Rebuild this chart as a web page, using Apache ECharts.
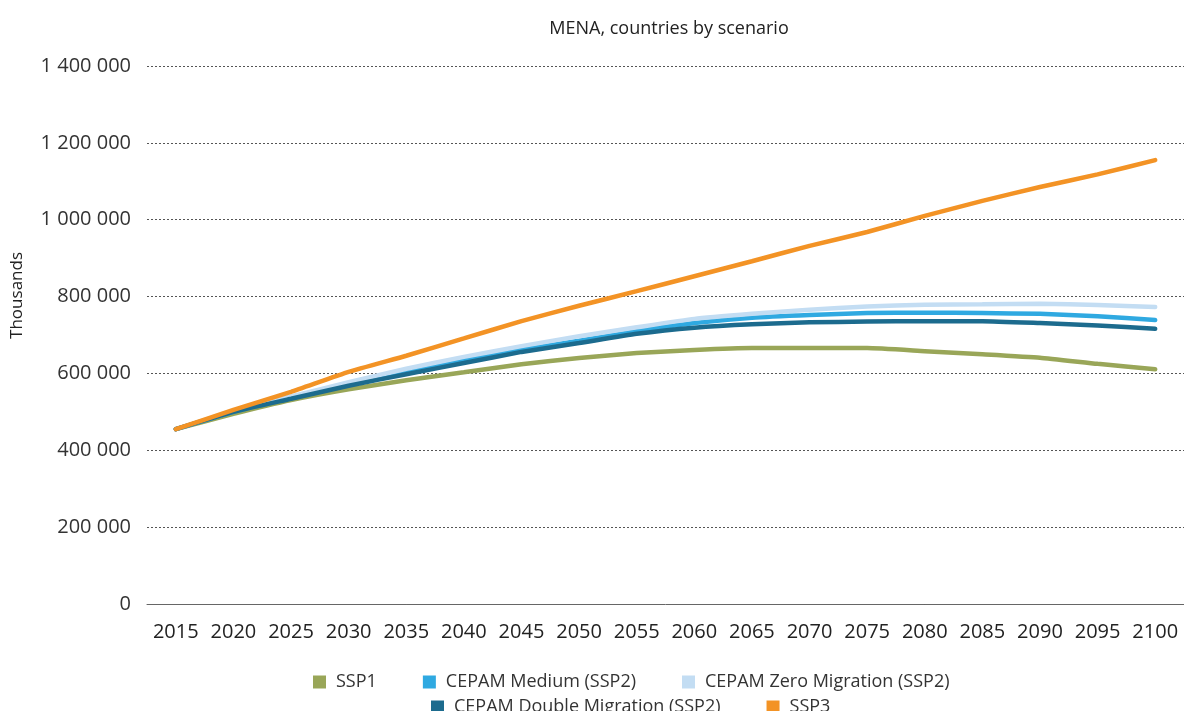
<!DOCTYPE html>
<html>
<head>
<meta charset="utf-8">
<script src="https://cdn.jsdelivr.net/npm/echarts@6/dist/echarts.min.js"></script>
<style>
html, body { margin: 0; padding: 0; background: #fff; }
#main { width: 1184px; height: 711px; }
</style>
</head>
<body>
<div id="main"></div>
<script>
// 年份
var years = ['2015','2020','2025','2030','2035','2040','2045','2050','2055','2060','2065','2070','2075','2080','2085','2090','2095','2100'];
// 各情景人口 (千人)
var ssp1 = [455000,495000,531000,559000,582000,603000,624000,640000,653000,661000,666000,666000,666000,658000,650000,641000,625000,611000];
var cepamMedium = [455000,500000,537000,572000,604000,634000,662000,685000,710000,731000,745000,752000,757000,758000,757000,755000,749000,739000];
var cepamZero = [455000,502000,540000,577000,612000,643000,671000,697000,720000,742000,755000,766000,774000,779000,780000,781000,778000,773000];
var cepamDouble = [455000,500000,534000,568000,598000,627000,656000,679000,703000,719000,728000,733000,735000,736000,736000,731000,725000,716000];
var ssp3 = [455000,505000,552000,604000,646000,691000,736000,776000,814000,853000,892000,932000,968000,1010000,1049000,1085000,1118000,1155000];

var seriesNames = ['SSP1','CEPAM Medium (SSP2)','CEPAM Zero Migration (SSP2)','CEPAM Double Migration (SSP2)','SSP3'];
var seriesData = [ssp1, cepamMedium, cepamZero, cepamDouble, ssp3];
var colors = ['#99a658','#2fa9e1','#c3ddf3','#1c6b8e','#f39325'];

var myChart = echarts.init(document.getElementById('main'));

function fmt(v){
    return String(v).replace(/\B(?=(\d{3})+(?!\d))/g, ' ');
}

var series = [];
for (var i = 0; i < seriesNames.length; i++) {
    series.push({
        name: seriesNames[i],
        type: 'line',
        data: seriesData[i],
        symbol: 'none',
        smooth: 0.15,
        lineStyle: { width: 4.5, color: colors[i], cap: 'round' },
        itemStyle: { color: colors[i] },
        z: 2 + i
    });
}

var legendBase = {
    itemGap: 46,
    itemWidth: 13,
    itemHeight: 13,
    icon: 'rect',
    textStyle: { fontSize: 18, color: '#333', padding: [0, 0, 0, 5] }
};

var option = {
    textStyle: { fontFamily: 'Open Sans' },
    title: {
        text: 'MENA, countries by scenario',
        left: 664,
        textAlign: 'center',
        top: 15,
        textStyle: { fontSize: 18, fontWeight: 'normal', color: '#222' }
    },
    legend: [
        Object.assign({ data: seriesNames.slice(0, 3), left: 308, top: 668 }, legendBase),
        Object.assign({ data: seriesNames.slice(3), left: 426, top: 693 }, legendBase)
    ],
    grid: { left: 147, right: 0, top: 66, bottom: 107 },
    graphic: [{
        type: 'text',
        left: 9,
        top: 252,
        rotation: Math.PI / 2,
        style: { text: 'Thousands', fontSize: 17, fontFamily: 'Open Sans', fill: '#222' }
    }],
    xAxis: {
        type: 'category',
        data: years,
        axisTick: { show: false },
        axisLine: { lineStyle: { color: '#666', width: 1 } },
        axisLabel: { fontSize: 20, color: '#222', margin: 18, interval: 0 }
    },
    yAxis: {
        type: 'value',
        min: 0,
        max: 1400000,
        interval: 200000,
        axisLabel: { fontSize: 20, color: '#333', margin: 16, formatter: fmt },
        splitLine: { lineStyle: { type: [2, 2], color: '#555', width: 1 } }
    },
    series: series
};

myChart.setOption(option);
</script>
</body>
</html>
